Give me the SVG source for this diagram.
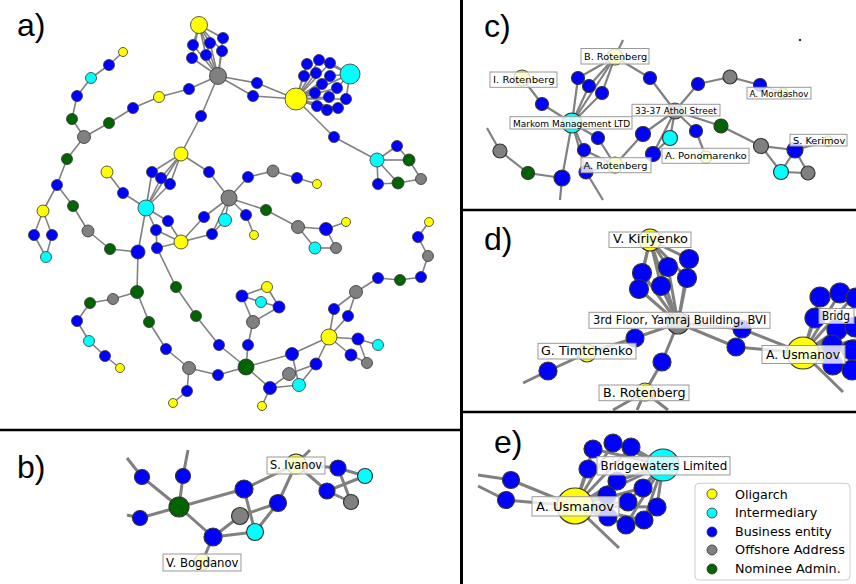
<svg xmlns="http://www.w3.org/2000/svg" width="856" height="584" viewBox="0 0 856 584">
<style>
circle{stroke:#333;stroke-width:0.8}
.y{fill:#ffff00}.c{fill:#00ffff}.b{fill:#0000ff}.g{fill:#808080}.n{fill:#006400}
.pa line{stroke:#808080;stroke-width:1.6}
.pb line,.pd line,.pe line{stroke:#808080;stroke-width:3}
.pc line{stroke:#808080;stroke-width:2.2}
.big circle{stroke-width:1.2}
.lbl rect{fill:#fff;fill-opacity:0.8;stroke:#999;stroke-width:1}
.lbl text{font-family:"DejaVu Sans",sans-serif;fill:#000}
.plet{font-family:"Liberation Sans",Arial,sans-serif;font-size:32px;fill:#000}
.frame line{stroke:#000}
.leg text{font-family:"DejaVu Sans",sans-serif;font-size:12.8px;fill:#000}
</style>
<rect width="856" height="584" fill="#fff"/>
<g id="connectors">
<g class="pa">
<line x1="199" y1="25" x2="218" y2="76"/>
<line x1="199" y1="25" x2="193" y2="45"/><line x1="199" y1="25" x2="210" y2="43"/><line x1="199" y1="25" x2="223" y2="38"/>
<line x1="199" y1="25" x2="192" y2="58"/><line x1="199" y1="25" x2="206" y2="55"/><line x1="199" y1="25" x2="222" y2="51"/>
<line x1="193" y1="45" x2="218" y2="76"/><line x1="210" y1="43" x2="218" y2="76"/><line x1="223" y1="38" x2="218" y2="76"/>
<line x1="192" y1="58" x2="218" y2="76"/><line x1="206" y1="55" x2="218" y2="76"/><line x1="222" y1="51" x2="218" y2="76"/>
<line x1="218" y1="76" x2="189" y2="89"/><line x1="189" y1="89" x2="159" y2="97"/><line x1="159" y1="97" x2="133" y2="108"/>
<line x1="133" y1="108" x2="109" y2="123"/><line x1="109" y1="123" x2="84" y2="137"/>
<line x1="218" y1="76" x2="201" y2="116"/><line x1="201" y1="116" x2="181" y2="154"/>
<line x1="218" y1="76" x2="257" y2="83"/><line x1="218" y1="76" x2="253" y2="96"/>
<line x1="257" y1="83" x2="296" y2="99"/><line x1="253" y1="96" x2="296" y2="99"/>
<line x1="296" y1="99" x2="350" y2="74"/>
<line x1="296" y1="99" x2="307" y2="64"/><line x1="296" y1="99" x2="319" y2="60"/><line x1="296" y1="99" x2="330" y2="63"/>
<line x1="296" y1="99" x2="304" y2="76"/><line x1="296" y1="99" x2="316" y2="73"/><line x1="296" y1="99" x2="330" y2="76"/>
<line x1="296" y1="99" x2="322" y2="84"/><line x1="296" y1="99" x2="337" y2="88"/><line x1="296" y1="99" x2="315" y2="93"/>
<line x1="296" y1="99" x2="329" y2="97"/><line x1="296" y1="99" x2="346" y2="99"/><line x1="296" y1="99" x2="317" y2="106"/>
<line x1="296" y1="99" x2="327" y2="110"/><line x1="296" y1="99" x2="338" y2="108"/>
<line x1="350" y1="74" x2="330" y2="63"/><line x1="350" y1="74" x2="330" y2="76"/><line x1="350" y1="74" x2="337" y2="88"/>
<line x1="350" y1="74" x2="346" y2="99"/><line x1="350" y1="74" x2="319" y2="60"/>
<line x1="296" y1="99" x2="334" y2="137"/><line x1="334" y1="137" x2="377" y2="160"/>
<line x1="377" y1="160" x2="397" y2="146"/><line x1="397" y1="146" x2="409" y2="160"/><line x1="377" y1="160" x2="409" y2="160"/>
<line x1="409" y1="160" x2="421" y2="179"/><line x1="421" y1="179" x2="398" y2="183"/><line x1="377" y1="160" x2="398" y2="183"/>
<line x1="377" y1="160" x2="378" y2="184"/><line x1="378" y1="184" x2="398" y2="183"/>
<line x1="123" y1="52" x2="109" y2="65"/><line x1="109" y1="65" x2="91" y2="78"/><line x1="91" y1="78" x2="77" y2="96"/>
<line x1="77" y1="96" x2="72" y2="119"/><line x1="72" y1="119" x2="84" y2="137"/><line x1="84" y1="137" x2="67" y2="159"/>
<line x1="67" y1="159" x2="57" y2="185"/><line x1="57" y1="185" x2="43" y2="211"/><line x1="43" y1="211" x2="34" y2="235"/>
<line x1="34" y1="235" x2="46" y2="257"/><line x1="46" y1="257" x2="52" y2="235"/><line x1="52" y1="235" x2="43" y2="211"/>
<line x1="57" y1="185" x2="73" y2="206"/><line x1="73" y1="206" x2="88" y2="231"/><line x1="88" y1="231" x2="110" y2="249"/>
<line x1="110" y1="249" x2="138" y2="252"/>
<line x1="181" y1="154" x2="152" y2="172"/><line x1="181" y1="154" x2="161" y2="178"/><line x1="181" y1="154" x2="170" y2="184"/>
<line x1="181" y1="154" x2="146" y2="208"/><line x1="152" y1="172" x2="146" y2="208"/><line x1="161" y1="178" x2="146" y2="208"/>
<line x1="170" y1="184" x2="146" y2="208"/><line x1="181" y1="154" x2="209" y2="172"/><line x1="209" y1="172" x2="229" y2="198"/>
<line x1="107" y1="172" x2="123" y2="193"/><line x1="123" y1="193" x2="146" y2="208"/>
<line x1="146" y1="208" x2="168" y2="221"/><line x1="168" y1="221" x2="181" y2="242"/><line x1="146" y1="208" x2="156" y2="230"/>
<line x1="156" y1="230" x2="157" y2="248"/><line x1="156" y1="230" x2="181" y2="242"/><line x1="157" y1="248" x2="181" y2="242"/>
<line x1="146" y1="208" x2="138" y2="252"/><line x1="157" y1="248" x2="176" y2="287"/>
<line x1="181" y1="242" x2="204" y2="217"/><line x1="204" y1="217" x2="229" y2="198"/><line x1="181" y1="242" x2="212" y2="234"/>
<line x1="212" y1="234" x2="225" y2="220"/><line x1="212" y1="234" x2="229" y2="198"/><line x1="225" y1="220" x2="229" y2="198"/>
<line x1="229" y1="198" x2="248" y2="177"/><line x1="248" y1="177" x2="273" y2="171"/><line x1="273" y1="171" x2="297" y2="178"/>
<line x1="297" y1="178" x2="317" y2="184"/>
<line x1="229" y1="198" x2="246" y2="215"/><line x1="246" y1="215" x2="254" y2="235"/><line x1="229" y1="198" x2="266" y2="210"/>
<line x1="266" y1="210" x2="298" y2="227"/><line x1="298" y1="227" x2="326" y2="229"/><line x1="326" y1="229" x2="346" y2="222"/>
<line x1="298" y1="227" x2="315" y2="248"/><line x1="315" y1="248" x2="336" y2="248"/><line x1="336" y1="248" x2="326" y2="229"/>
<line x1="138" y1="252" x2="137" y2="292"/><line x1="137" y1="292" x2="113" y2="299"/><line x1="113" y1="299" x2="90" y2="303"/>
<line x1="90" y1="303" x2="77" y2="321"/><line x1="77" y1="321" x2="89" y2="341"/><line x1="89" y1="341" x2="105" y2="356"/>
<line x1="105" y1="356" x2="120" y2="368"/>
<line x1="137" y1="292" x2="149" y2="322"/><line x1="149" y1="322" x2="166" y2="349"/><line x1="166" y1="349" x2="189" y2="368"/>
<line x1="189" y1="368" x2="187" y2="391"/><line x1="187" y1="391" x2="173" y2="403"/><line x1="189" y1="368" x2="218" y2="375"/>
<line x1="218" y1="375" x2="246" y2="367"/>
<line x1="176" y1="287" x2="196" y2="316"/><line x1="196" y1="316" x2="219" y2="345"/><line x1="219" y1="345" x2="246" y2="367"/>
<line x1="246" y1="367" x2="248" y2="345"/><line x1="248" y1="345" x2="253" y2="322"/><line x1="253" y1="322" x2="242" y2="296"/>
<line x1="253" y1="322" x2="279" y2="307"/><line x1="242" y1="296" x2="267" y2="287"/><line x1="267" y1="287" x2="279" y2="307"/>
<line x1="242" y1="296" x2="261" y2="302"/><line x1="261" y1="302" x2="279" y2="307"/>
<line x1="246" y1="367" x2="292" y2="354"/><line x1="292" y1="354" x2="329" y2="337"/><line x1="292" y1="354" x2="299" y2="385"/>
<line x1="289" y1="374" x2="316" y2="364"/><line x1="270" y1="388" x2="289" y2="374"/><line x1="270" y1="388" x2="299" y2="385"/>
<line x1="299" y1="385" x2="316" y2="364"/><line x1="316" y1="364" x2="329" y2="337"/><line x1="246" y1="367" x2="270" y2="388"/>
<line x1="270" y1="388" x2="262" y2="406"/>
<line x1="329" y1="337" x2="334" y2="309"/><line x1="334" y1="309" x2="356" y2="292"/><line x1="329" y1="337" x2="348" y2="316"/>
<line x1="348" y1="316" x2="356" y2="292"/><line x1="356" y1="292" x2="378" y2="278"/><line x1="378" y1="278" x2="400" y2="280"/>
<line x1="400" y1="280" x2="421" y2="277"/><line x1="421" y1="277" x2="428" y2="256"/><line x1="428" y1="256" x2="418" y2="237"/>
<line x1="418" y1="237" x2="429" y2="222"/>
<line x1="329" y1="337" x2="358" y2="339"/><line x1="358" y1="339" x2="378" y2="345"/><line x1="329" y1="337" x2="351" y2="355"/>
<line x1="351" y1="355" x2="367" y2="363"/><line x1="358" y1="339" x2="367" y2="363"/>
</g>
<g class="pb">
<line x1="127" y1="458" x2="142" y2="477"/><line x1="142" y1="477" x2="179" y2="507"/>
<line x1="188" y1="450" x2="183" y2="476"/><line x1="183" y1="476" x2="179" y2="507"/>
<line x1="127" y1="515" x2="140" y2="518"/><line x1="140" y1="518" x2="179" y2="507"/>
<line x1="179" y1="507" x2="244" y2="489"/><line x1="179" y1="507" x2="213" y2="537"/>
<line x1="213" y1="537" x2="240" y2="516"/><line x1="240" y1="516" x2="278" y2="503"/>
<line x1="213" y1="537" x2="255" y2="532"/><line x1="255" y1="532" x2="278" y2="503"/>
<line x1="244" y1="489" x2="255" y2="532"/><line x1="244" y1="489" x2="296" y2="464"/>
<line x1="278" y1="503" x2="296" y2="464"/><line x1="296" y1="464" x2="310" y2="450"/>
<line x1="296" y1="464" x2="338" y2="468"/><line x1="296" y1="464" x2="327" y2="491"/>
<line x1="338" y1="468" x2="365" y2="476"/><line x1="327" y1="491" x2="365" y2="476"/>
<line x1="338" y1="468" x2="351" y2="502"/><line x1="327" y1="491" x2="351" y2="502"/>
<line x1="213" y1="537" x2="202" y2="562"/>
</g>
<g class="pc">
<line x1="487" y1="128" x2="500" y2="151"/><line x1="500" y1="151" x2="528" y2="173"/><line x1="528" y1="173" x2="562" y2="178"/>
<line x1="562" y1="178" x2="572" y2="123"/><line x1="562" y1="178" x2="560" y2="200"/><line x1="586" y1="172" x2="603" y2="200"/>
<line x1="572" y1="123" x2="586" y2="172"/><line x1="572" y1="123" x2="542" y2="104"/><line x1="542" y1="104" x2="522" y2="78"/>
<line x1="572" y1="123" x2="578" y2="78"/><line x1="572" y1="123" x2="589" y2="86"/><line x1="572" y1="123" x2="602" y2="93"/>
<line x1="572" y1="123" x2="615" y2="57"/><line x1="578" y1="78" x2="615" y2="57"/><line x1="589" y1="86" x2="615" y2="57"/>
<line x1="602" y1="93" x2="615" y2="57"/><line x1="615" y1="57" x2="623" y2="40"/><line x1="615" y1="57" x2="650" y2="78"/>
<line x1="650" y1="78" x2="675" y2="111"/><line x1="675" y1="111" x2="698" y2="84"/><line x1="698" y1="84" x2="730" y2="77"/>
<line x1="730" y1="77" x2="760" y2="85"/><line x1="760" y1="85" x2="783" y2="93"/>
<line x1="675" y1="111" x2="721" y2="126"/><line x1="721" y1="126" x2="761" y2="146"/><line x1="761" y1="146" x2="795" y2="150"/>
<line x1="761" y1="146" x2="781" y2="172"/><line x1="781" y1="172" x2="795" y2="150"/><line x1="795" y1="150" x2="808" y2="173"/>
<line x1="781" y1="172" x2="808" y2="173"/><line x1="795" y1="150" x2="828" y2="141"/>
<line x1="675" y1="111" x2="643" y2="134"/><line x1="675" y1="111" x2="670" y2="138"/><line x1="675" y1="111" x2="653" y2="154"/>
<line x1="675" y1="111" x2="696" y2="131"/><line x1="696" y1="131" x2="706" y2="157"/>
<line x1="572" y1="123" x2="598" y2="138"/><line x1="598" y1="138" x2="615" y2="165"/><line x1="572" y1="123" x2="584" y2="150"/>
<line x1="584" y1="150" x2="615" y2="165"/><line x1="643" y1="134" x2="615" y2="165"/><line x1="653" y1="154" x2="670" y2="138"/>
<line x1="586" y1="172" x2="615" y2="165"/>
</g>
<g class="pd">
<line x1="650" y1="240" x2="689" y2="259"/><line x1="650" y1="240" x2="668" y2="267"/><line x1="650" y1="240" x2="642" y2="273"/>
<line x1="650" y1="240" x2="687" y2="278"/><line x1="650" y1="240" x2="661" y2="286"/><line x1="650" y1="240" x2="639" y2="289"/>
<line x1="689" y1="259" x2="678" y2="323"/><line x1="668" y1="267" x2="678" y2="323"/><line x1="642" y1="273" x2="678" y2="323"/>
<line x1="687" y1="278" x2="678" y2="323"/><line x1="661" y1="286" x2="678" y2="323"/><line x1="639" y1="289" x2="678" y2="323"/>
<line x1="650" y1="240" x2="678" y2="323"/>
<line x1="678" y1="323" x2="742" y2="329"/><line x1="742" y1="329" x2="803" y2="353"/>
<line x1="678" y1="323" x2="736" y2="347"/><line x1="736" y1="347" x2="803" y2="353"/>
<line x1="678" y1="323" x2="635" y2="338"/><line x1="635" y1="338" x2="587" y2="353"/><line x1="587" y1="353" x2="548" y2="371"/>
<line x1="548" y1="371" x2="523" y2="383"/>
<line x1="678" y1="323" x2="662" y2="362"/><line x1="662" y1="362" x2="645" y2="392"/>
<line x1="645" y1="392" x2="613" y2="410"/><line x1="645" y1="392" x2="637" y2="410"/><line x1="645" y1="392" x2="668" y2="410"/>
<line x1="803" y1="353" x2="843" y2="392"/>
<line x1="803" y1="353" x2="820" y2="297"/><line x1="803" y1="353" x2="840" y2="293"/><line x1="803" y1="353" x2="852" y2="298"/>
<line x1="803" y1="353" x2="815" y2="318"/><line x1="803" y1="353" x2="837" y2="330"/><line x1="803" y1="353" x2="852" y2="327"/>
<line x1="803" y1="353" x2="832" y2="345"/><line x1="803" y1="353" x2="850" y2="350"/><line x1="803" y1="353" x2="833" y2="365"/>
<line x1="803" y1="353" x2="850" y2="370"/><line x1="803" y1="353" x2="856" y2="340"/>
</g>
<g class="pe">
<line x1="478" y1="475" x2="511" y2="480"/><line x1="478" y1="486" x2="506" y2="500"/>
<line x1="511" y1="480" x2="575" y2="506"/><line x1="506" y1="500" x2="575" y2="506"/><line x1="575" y1="506" x2="619" y2="548"/>
<line x1="575" y1="506" x2="663" y2="465"/>
<line x1="575" y1="506" x2="593" y2="449"/><line x1="575" y1="506" x2="613" y2="443"/><line x1="575" y1="506" x2="631" y2="447"/>
<line x1="575" y1="506" x2="588" y2="469"/><line x1="575" y1="506" x2="617" y2="481"/><line x1="575" y1="506" x2="643" y2="488"/>
<line x1="575" y1="506" x2="607" y2="495"/><line x1="575" y1="506" x2="628" y2="502"/><line x1="575" y1="506" x2="657" y2="507"/>
<line x1="575" y1="506" x2="608" y2="517"/><line x1="575" y1="506" x2="626" y2="525"/><line x1="575" y1="506" x2="644" y2="520"/>
<line x1="663" y1="465" x2="593" y2="449"/><line x1="663" y1="465" x2="613" y2="443"/><line x1="663" y1="465" x2="631" y2="447"/>
<line x1="663" y1="465" x2="617" y2="481"/><line x1="663" y1="465" x2="643" y2="488"/><line x1="663" y1="465" x2="628" y2="502"/>
<line x1="663" y1="465" x2="657" y2="507"/><line x1="663" y1="465" x2="644" y2="520"/><line x1="663" y1="465" x2="626" y2="525"/>
</g>
</g>
<g id="nodes-a">
<g id="a1"><circle class="y" cx="199" cy="25" r="8.5"/></g>
<g id="a2"><circle class="b" cx="193" cy="45" r="5.5"/></g>
<g id="a3"><circle class="b" cx="210" cy="43" r="5.5"/></g>
<g id="a4"><circle class="b" cx="223" cy="38" r="5.5"/></g>
<g id="a5"><circle class="b" cx="192" cy="58" r="5.5"/></g>
<g id="a6"><circle class="b" cx="206" cy="55" r="5.5"/></g>
<g id="a7"><circle class="b" cx="222" cy="51" r="5.5"/></g>
<g id="a8"><circle class="g" cx="218" cy="76" r="8.5"/></g>
<g id="a9"><circle class="b" cx="189" cy="89" r="5.5"/></g>
<g id="a10"><circle class="y" cx="159" cy="97" r="5.5"/></g>
<g id="a11"><circle class="b" cx="133" cy="108" r="5.5"/></g>
<g id="a12"><circle class="n" cx="109" cy="123" r="5.5"/></g>
<g id="a13"><circle class="g" cx="84" cy="137" r="6.5"/></g>
<g id="a14"><circle class="n" cx="72" cy="119" r="5.5"/></g>
<g id="a15"><circle class="b" cx="77" cy="96" r="5.5"/></g>
<g id="a16"><circle class="c" cx="91" cy="78" r="5.5"/></g>
<g id="a17"><circle class="b" cx="109" cy="65" r="5.5"/></g>
<g id="a18"><circle class="y" cx="123" cy="52" r="4.5"/></g>
<g id="a19"><circle class="n" cx="67" cy="159" r="5.5"/></g>
<g id="a20"><circle class="b" cx="57" cy="185" r="5.5"/></g>
<g id="a21"><circle class="y" cx="43" cy="211" r="6"/></g>
<g id="a22"><circle class="b" cx="34" cy="235" r="5.5"/></g>
<g id="a23"><circle class="b" cx="52" cy="235" r="5.5"/></g>
<g id="a24"><circle class="c" cx="46" cy="257" r="5.5"/></g>
<g id="a25"><circle class="n" cx="73" cy="206" r="5.5"/></g>
<g id="a26"><circle class="g" cx="88" cy="231" r="6"/></g>
<g id="a27"><circle class="n" cx="110" cy="249" r="5.5"/></g>
<g id="a28"><circle class="b" cx="138" cy="252" r="7"/></g>
<g id="a29"><circle class="b" cx="201" cy="116" r="5.5"/></g>
<g id="a30"><circle class="y" cx="181" cy="154" r="7"/></g>
<g id="a31"><circle class="b" cx="152" cy="172" r="5.5"/></g>
<g id="a32"><circle class="b" cx="161" cy="178" r="5.5"/></g>
<g id="a33"><circle class="b" cx="170" cy="184" r="5.5"/></g>
<g id="a34"><circle class="c" cx="146" cy="208" r="8"/></g>
<g id="a35"><circle class="y" cx="107" cy="172" r="6"/></g>
<g id="a36"><circle class="b" cx="123" cy="193" r="5.5"/></g>
<g id="a37"><circle class="b" cx="209" cy="172" r="5.5"/></g>
<g id="a38"><circle class="g" cx="229" cy="198" r="8"/></g>
<g id="a39"><circle class="b" cx="248" cy="177" r="5.5"/></g>
<g id="a40"><circle class="g" cx="273" cy="171" r="6"/></g>
<g id="a41"><circle class="b" cx="297" cy="178" r="5.5"/></g>
<g id="a42"><circle class="y" cx="317" cy="184" r="4.5"/></g>
<g id="a43"><circle class="b" cx="168" cy="221" r="5.5"/></g>
<g id="a44"><circle class="b" cx="156" cy="230" r="5.5"/></g>
<g id="a45"><circle class="b" cx="157" cy="248" r="5.5"/></g>
<g id="a46"><circle class="y" cx="181" cy="242" r="7"/></g>
<g id="a47"><circle class="b" cx="204" cy="217" r="5.5"/></g>
<g id="a48"><circle class="b" cx="212" cy="234" r="5.5"/></g>
<g id="a49"><circle class="c" cx="225" cy="220" r="6.5"/></g>
<g id="a50"><circle class="b" cx="246" cy="215" r="5.5"/></g>
<g id="a51"><circle class="y" cx="254" cy="235" r="4.5"/></g>
<g id="a52"><circle class="n" cx="266" cy="210" r="5.5"/></g>
<g id="a53"><circle class="g" cx="298" cy="227" r="6.5"/></g>
<g id="a54"><circle class="b" cx="326" cy="229" r="6.5"/></g>
<g id="a55"><circle class="y" cx="346" cy="222" r="4.5"/></g>
<g id="a56"><circle class="c" cx="315" cy="248" r="6"/></g>
<g id="a57"><circle class="g" cx="336" cy="248" r="5.5"/></g>
<g id="a58"><circle class="b" cx="257" cy="83" r="5.5"/></g>
<g id="a59"><circle class="b" cx="253" cy="96" r="5.5"/></g>
<g id="a60"><circle class="y" cx="296" cy="99" r="11"/></g>
<g id="a61"><circle class="c" cx="350" cy="74" r="10"/></g>
<g id="a62"><circle class="b" cx="307" cy="64" r="5.5"/></g>
<g id="a63"><circle class="b" cx="319" cy="60" r="5.5"/></g>
<g id="a64"><circle class="b" cx="330" cy="63" r="5.5"/></g>
<g id="a65"><circle class="b" cx="304" cy="76" r="5.5"/></g>
<g id="a66"><circle class="b" cx="316" cy="73" r="5.5"/></g>
<g id="a67"><circle class="b" cx="330" cy="76" r="5.5"/></g>
<g id="a68"><circle class="b" cx="322" cy="84" r="5.5"/></g>
<g id="a69"><circle class="b" cx="337" cy="88" r="5.5"/></g>
<g id="a70"><circle class="b" cx="315" cy="93" r="5.5"/></g>
<g id="a71"><circle class="b" cx="329" cy="97" r="5.5"/></g>
<g id="a72"><circle class="b" cx="346" cy="99" r="5.5"/></g>
<g id="a73"><circle class="b" cx="317" cy="106" r="5.5"/></g>
<g id="a74"><circle class="b" cx="327" cy="110" r="5.5"/></g>
<g id="a75"><circle class="b" cx="338" cy="108" r="5.5"/></g>
<g id="a76"><circle class="b" cx="334" cy="137" r="5.5"/></g>
<g id="a77"><circle class="c" cx="377" cy="160" r="7"/></g>
<g id="a78"><circle class="b" cx="397" cy="146" r="5.5"/></g>
<g id="a79"><circle class="n" cx="409" cy="160" r="6"/></g>
<g id="a80"><circle class="g" cx="421" cy="179" r="5.5"/></g>
<g id="a81"><circle class="n" cx="398" cy="183" r="6"/></g>
<g id="a82"><circle class="b" cx="378" cy="184" r="5.5"/></g>
<g id="a83"><circle class="n" cx="137" cy="292" r="6.5"/></g>
<g id="a84"><circle class="g" cx="113" cy="299" r="5.5"/></g>
<g id="a85"><circle class="n" cx="90" cy="303" r="5.5"/></g>
<g id="a86"><circle class="b" cx="77" cy="321" r="5.5"/></g>
<g id="a87"><circle class="c" cx="89" cy="341" r="5.5"/></g>
<g id="a88"><circle class="b" cx="105" cy="356" r="5.5"/></g>
<g id="a89"><circle class="y" cx="120" cy="368" r="4.5"/></g>
<g id="a90"><circle class="n" cx="149" cy="322" r="5.5"/></g>
<g id="a91"><circle class="b" cx="166" cy="349" r="5.5"/></g>
<g id="a92"><circle class="g" cx="189" cy="368" r="6.5"/></g>
<g id="a93"><circle class="b" cx="187" cy="391" r="5.5"/></g>
<g id="a94"><circle class="y" cx="173" cy="403" r="4.5"/></g>
<g id="a95"><circle class="b" cx="218" cy="375" r="5.5"/></g>
<g id="a96"><circle class="n" cx="176" cy="287" r="5.5"/></g>
<g id="a97"><circle class="n" cx="196" cy="316" r="5.5"/></g>
<g id="a98"><circle class="b" cx="219" cy="345" r="5.5"/></g>
<g id="a99"><circle class="n" cx="246" cy="367" r="8"/></g>
<g id="a100"><circle class="b" cx="248" cy="345" r="5.5"/></g>
<g id="a101"><circle class="g" cx="253" cy="322" r="6.5"/></g>
<g id="a102"><circle class="b" cx="242" cy="296" r="6"/></g>
<g id="a103"><circle class="y" cx="267" cy="287" r="5.5"/></g>
<g id="a104"><circle class="c" cx="261" cy="302" r="5.5"/></g>
<g id="a105"><circle class="b" cx="279" cy="307" r="6"/></g>
<g id="a106"><circle class="b" cx="292" cy="354" r="6.5"/></g>
<g id="a107"><circle class="g" cx="289" cy="374" r="6.5"/></g>
<g id="a108"><circle class="b" cx="316" cy="364" r="6"/></g>
<g id="a109"><circle class="c" cx="299" cy="385" r="6.5"/></g>
<g id="a110"><circle class="b" cx="270" cy="388" r="6.5"/></g>
<g id="a111"><circle class="y" cx="262" cy="406" r="4.5"/></g>
<g id="a112"><circle class="y" cx="329" cy="337" r="8"/></g>
<g id="a113"><circle class="b" cx="334" cy="309" r="5.5"/></g>
<g id="a114"><circle class="b" cx="348" cy="316" r="5.5"/></g>
<g id="a115"><circle class="g" cx="356" cy="292" r="6.5"/></g>
<g id="a116"><circle class="b" cx="378" cy="278" r="5.5"/></g>
<g id="a117"><circle class="n" cx="400" cy="280" r="5.5"/></g>
<g id="a118"><circle class="b" cx="421" cy="277" r="5.5"/></g>
<g id="a119"><circle class="g" cx="428" cy="256" r="5.5"/></g>
<g id="a120"><circle class="b" cx="418" cy="237" r="5.5"/></g>
<g id="a121"><circle class="y" cx="429" cy="222" r="4.5"/></g>
<g id="a122"><circle class="b" cx="358" cy="339" r="6"/></g>
<g id="a123"><circle class="c" cx="378" cy="345" r="5.5"/></g>
<g id="a124"><circle class="b" cx="351" cy="355" r="6"/></g>
<g id="a125"><circle class="g" cx="367" cy="363" r="5.5"/></g>
</g>
<g id="nodes-b" class="big">
<g id="b1"><circle class="b" cx="142" cy="477" r="7.5"/></g>
<g id="b2"><circle class="b" cx="183" cy="476" r="7.5"/></g>
<g id="b3"><circle class="b" cx="140" cy="518" r="7.5"/></g>
<g id="b4"><circle class="n" cx="179" cy="507" r="10"/></g>
<g id="b5"><circle class="b" cx="244" cy="489" r="9"/></g>
<g id="b6"><circle class="g" cx="240" cy="516" r="8.5"/></g>
<g id="b7"><circle class="b" cx="213" cy="537" r="9"/></g>
<g id="b8"><circle class="c" cx="255" cy="532" r="8.5"/></g>
<g id="b9"><circle class="b" cx="278" cy="503" r="8.5"/></g>
<g id="b10"><circle class="y" cx="296" cy="464" r="10"/></g>
<g id="b11"><circle class="b" cx="338" cy="468" r="8"/></g>
<g id="b12"><circle class="c" cx="365" cy="476" r="7.5"/></g>
<g id="b13"><circle class="b" cx="327" cy="491" r="8"/></g>
<g id="b14"><circle class="g" cx="351" cy="502" r="7.5"/></g>
<g id="b15"><circle class="y" cx="202" cy="562" r="8"/></g>
</g>
<g id="nodes-c" class="big">
<g id="c1"><circle class="y" cx="615" cy="57" r="8"/></g>
<g id="c2"><circle class="y" cx="522" cy="78" r="8"/></g>
<g id="c3"><circle class="b" cx="578" cy="78" r="6.5"/></g>
<g id="c4"><circle class="b" cx="589" cy="86" r="6.5"/></g>
<g id="c5"><circle class="b" cx="602" cy="93" r="6.5"/></g>
<g id="c6"><circle class="b" cx="650" cy="78" r="6.5"/></g>
<g id="c7"><circle class="b" cx="542" cy="104" r="6.5"/></g>
<g id="c8"><circle class="b" cx="698" cy="84" r="6.5"/></g>
<g id="c9"><circle class="g" cx="730" cy="77" r="7"/></g>
<g id="c10"><circle class="b" cx="760" cy="85" r="6.5"/></g>
<g id="c11"><circle class="y" cx="783" cy="93" r="5"/></g>
<g id="c12"><circle class="c" cx="572" cy="123" r="10"/></g>
<g id="c13"><circle class="g" cx="675" cy="111" r="8"/></g>
<g id="c14"><circle class="n" cx="721" cy="126" r="7"/></g>
<g id="c15"><circle class="b" cx="598" cy="138" r="6.5"/></g>
<g id="c16"><circle class="b" cx="584" cy="150" r="6.5"/></g>
<g id="c17"><circle class="b" cx="643" cy="134" r="7.5"/></g>
<g id="c18"><circle class="c" cx="670" cy="138" r="7.5"/></g>
<g id="c19"><circle class="b" cx="696" cy="131" r="6.5"/></g>
<g id="c20"><circle class="b" cx="653" cy="154" r="7.5"/></g>
<g id="c21"><circle class="y" cx="615" cy="165" r="8"/></g>
<g id="c22"><circle class="b" cx="586" cy="172" r="7"/></g>
<g id="c23"><circle class="y" cx="706" cy="157" r="6"/></g>
<g id="c24"><circle class="g" cx="761" cy="146" r="7.5"/></g>
<g id="c25"><circle class="b" cx="795" cy="150" r="8"/></g>
<g id="c26"><circle class="y" cx="828" cy="141" r="5"/></g>
<g id="c27"><circle class="c" cx="781" cy="172" r="7.5"/></g>
<g id="c28"><circle class="g" cx="808" cy="173" r="7"/></g>
<g id="c29"><circle class="g" cx="500" cy="151" r="7"/></g>
<g id="c30"><circle class="n" cx="528" cy="173" r="6.5"/></g>
<g id="c31"><circle class="b" cx="562" cy="178" r="8"/></g>
<g id="c32"><circle cx="800" cy="40" r="0.7" fill="#555" stroke="none"/></g>
</g>
<g id="nodes-d" class="big">
<g id="d1"><circle class="y" cx="650" cy="240" r="11"/></g>
<g id="d2"><circle class="b" cx="689" cy="259" r="9.5"/></g>
<g id="d3"><circle class="b" cx="668" cy="267" r="9.5"/></g>
<g id="d4"><circle class="b" cx="642" cy="273" r="9.5"/></g>
<g id="d5"><circle class="b" cx="687" cy="278" r="9.5"/></g>
<g id="d6"><circle class="b" cx="661" cy="286" r="9.5"/></g>
<g id="d7"><circle class="b" cx="639" cy="289" r="9.5"/></g>
<g id="d8"><circle class="g" cx="678" cy="323" r="11"/></g>
<g id="d9"><circle class="b" cx="742" cy="329" r="9"/></g>
<g id="d10"><circle class="b" cx="736" cy="347" r="9"/></g>
<g id="d11"><circle class="y" cx="803" cy="353" r="16"/></g>
<g id="d12"><circle class="b" cx="820" cy="297" r="10"/></g>
<g id="d13"><circle class="b" cx="840" cy="293" r="10"/></g>
<g id="d14"><circle class="b" cx="856" cy="298" r="10"/></g>
<g id="d15"><circle class="b" cx="815" cy="318" r="10"/></g>
<g id="d16"><circle class="b" cx="837" cy="330" r="10"/></g>
<g id="d17"><circle class="b" cx="855" cy="327" r="10"/></g>
<g id="d18"><circle class="b" cx="832" cy="345" r="10"/></g>
<g id="d19"><circle class="b" cx="852" cy="350" r="10"/></g>
<g id="d20"><circle class="b" cx="833" cy="365" r="10"/></g>
<g id="d21"><circle class="b" cx="852" cy="370" r="10"/></g>
<g id="d23"><circle class="b" cx="635" cy="338" r="9"/></g>
<g id="d24"><circle class="y" cx="587" cy="353" r="9"/></g>
<g id="d25"><circle class="b" cx="548" cy="371" r="9"/></g>
<g id="d26"><circle class="b" cx="662" cy="362" r="9"/></g>
<g id="d27"><circle class="y" cx="645" cy="392" r="9"/></g>
</g>
<g id="nodes-e" class="big">
<g id="e1"><circle class="b" cx="511" cy="480" r="8.5"/></g>
<g id="e2"><circle class="b" cx="506" cy="500" r="8.5"/></g>
<g id="e5"><circle class="b" cx="593" cy="449" r="9"/></g>
<g id="e6"><circle class="b" cx="613" cy="443" r="9"/></g>
<g id="e7"><circle class="b" cx="631" cy="447" r="9"/></g>
<g id="e8"><circle class="b" cx="588" cy="469" r="9"/></g>
<g id="e9"><circle class="b" cx="617" cy="481" r="9"/></g>
<g id="e10"><circle class="b" cx="643" cy="488" r="9"/></g>
<g id="e11"><circle class="b" cx="607" cy="495" r="9"/></g>
<g id="e12"><circle class="b" cx="628" cy="502" r="9"/></g>
<g id="e13"><circle class="b" cx="657" cy="507" r="9"/></g>
<g id="e14"><circle class="b" cx="608" cy="517" r="9"/></g>
<g id="e15"><circle class="b" cx="626" cy="525" r="9"/></g>
<g id="e16"><circle class="b" cx="644" cy="520" r="9"/></g>
<g id="e3"><circle class="y" cx="575" cy="506" r="18"/></g>
<g id="e4"><circle class="c" cx="663" cy="465" r="16"/></g>
</g>
<g id="labels" class="lbl">
<g id="lb-ivanov"><rect x="267" y="457" width="58" height="17"/><text x="270" y="469" font-size="11.4" textLength="52" lengthAdjust="spacingAndGlyphs">S. Ivanov</text></g>
<g id="lb-bogdanov"><rect x="163" y="554" width="78" height="17"/><text x="166" y="567" font-size="11.4" textLength="72.5" lengthAdjust="spacingAndGlyphs">V. Bogdanov</text></g>
<g id="lc-brot"><rect x="581" y="48.5" width="68" height="15.5"/><text x="584" y="60" font-size="9.2" textLength="63.3" lengthAdjust="spacingAndGlyphs">B. Rotenberg</text></g>
<g id="lc-irot"><rect x="490" y="72" width="67" height="15.3"/><text x="493" y="83" font-size="9.2" textLength="61.7" lengthAdjust="spacingAndGlyphs">I. Rotenberg</text></g>
<g id="lc-markom"><rect x="510" y="116.7" width="122" height="12.3"/><text x="513" y="126.5" font-size="9.2" textLength="117.3" lengthAdjust="spacingAndGlyphs">Markom Management LTD</text></g>
<g id="lc-athol"><rect x="632" y="104.3" width="88" height="11.7"/><text x="635" y="113.5" font-size="9.2" textLength="81.7" lengthAdjust="spacingAndGlyphs">33-37 Athol Street</text></g>
<g id="lc-mord"><rect x="747" y="87.3" width="64" height="11.7"/><text x="749.5" y="96.5" font-size="9.2" textLength="59" lengthAdjust="spacingAndGlyphs">A. Mordashov</text></g>
<g id="lc-pono"><rect x="662" y="148.3" width="87" height="15"/><text x="665" y="159.3" font-size="9.2" textLength="81.7" lengthAdjust="spacingAndGlyphs">A. Ponomarenko</text></g>
<g id="lc-arot"><rect x="581" y="157.7" width="70" height="15"/><text x="583.5" y="168.5" font-size="9.2" textLength="64" lengthAdjust="spacingAndGlyphs">A. Rotenberg</text></g>
<g id="lc-kerim"><rect x="790" y="134.3" width="57" height="11.7"/><text x="793" y="143.5" font-size="9.2" textLength="52.3" lengthAdjust="spacingAndGlyphs">S. Kerimov</text></g>
<g id="ld-kiri"><rect x="609" y="232" width="82" height="15.5"/><text x="613" y="243" font-size="12.3" textLength="75" lengthAdjust="spacingAndGlyphs">V. Kiriyenko</text></g>
<g id="ld-yamraj"><rect x="589" y="312.3" width="181" height="16"/><text x="593" y="323.8" font-size="12.3" textLength="173.3" lengthAdjust="spacingAndGlyphs">3rd Floor, Yamraj Building, BVI</text></g>
<g id="ld-timt"><rect x="538" y="343.3" width="98" height="15.7"/><text x="541" y="355" font-size="12.3" textLength="91.7" lengthAdjust="spacingAndGlyphs">G. Timtchenko</text></g>
<g id="ld-brot"><rect x="599" y="385" width="90" height="15.7"/><text x="603" y="397" font-size="12.3" textLength="82.7" lengthAdjust="spacingAndGlyphs">B. Rotenberg</text></g>
<g id="ld-usman"><rect x="762" y="345.5" width="83" height="18"/><text x="766" y="358.8" font-size="12.3" textLength="74" lengthAdjust="spacingAndGlyphs">A. Usmanov</text></g>
<g id="ld-bridg"><rect x="819" y="308.5" width="35" height="15"/><text x="822" y="319.5" font-size="12" textLength="28" lengthAdjust="spacingAndGlyphs">Bridg</text></g>
<g id="le-bridge"><rect x="597" y="456.7" width="133" height="18.3"/><text x="600.5" y="470" font-size="12.8" textLength="126.7" lengthAdjust="spacingAndGlyphs">Bridgewaters Limited</text></g>
<g id="le-usman"><rect x="532" y="496.7" width="87" height="19.3"/><text x="536" y="510.5" font-size="12.8" textLength="78" lengthAdjust="spacingAndGlyphs">A. Usmanov</text></g>
</g>
<g id="legend" class="leg">
<rect x="695" y="483.3" width="155" height="96.7" rx="4" fill="#fff" fill-opacity="0.9" stroke="#ccc" stroke-width="1"/>
<circle class="y" cx="712" cy="494" r="5"/><text x="735" y="498.5" textLength="52.7" lengthAdjust="spacingAndGlyphs">Oligarch</text>
<circle class="c" cx="712" cy="513" r="5"/><text x="735" y="517" textLength="82.3" lengthAdjust="spacingAndGlyphs">Intermediary</text>
<circle class="b" cx="712" cy="532" r="5"/><text x="735" y="535.7" textLength="96.7" lengthAdjust="spacingAndGlyphs">Business entity</text>
<circle class="g" cx="712" cy="550" r="5"/><text x="735" y="554" textLength="110" lengthAdjust="spacingAndGlyphs">Offshore Address</text>
<circle class="n" cx="712" cy="569" r="5"/><text x="735" y="572.5" textLength="105.7" lengthAdjust="spacingAndGlyphs">Nominee Admin.</text>
</g>
<g id="panel-letters" class="plet">
<text x="17" y="36">a)</text>
<text x="17" y="478">b)</text>
<text x="484" y="37">c)</text>
<text x="484" y="250">d)</text>
<text x="494" y="453">e)</text>
</g>
<g id="frame" class="frame">
<line x1="461.5" y1="0" x2="461.5" y2="584" stroke-width="3"/>
<line x1="0" y1="430" x2="460" y2="430" stroke-width="2.5"/>
<line x1="460" y1="210" x2="856" y2="210" stroke-width="2.5"/>
<line x1="460" y1="412" x2="856" y2="412" stroke-width="2.5"/>
</g>
</svg>
